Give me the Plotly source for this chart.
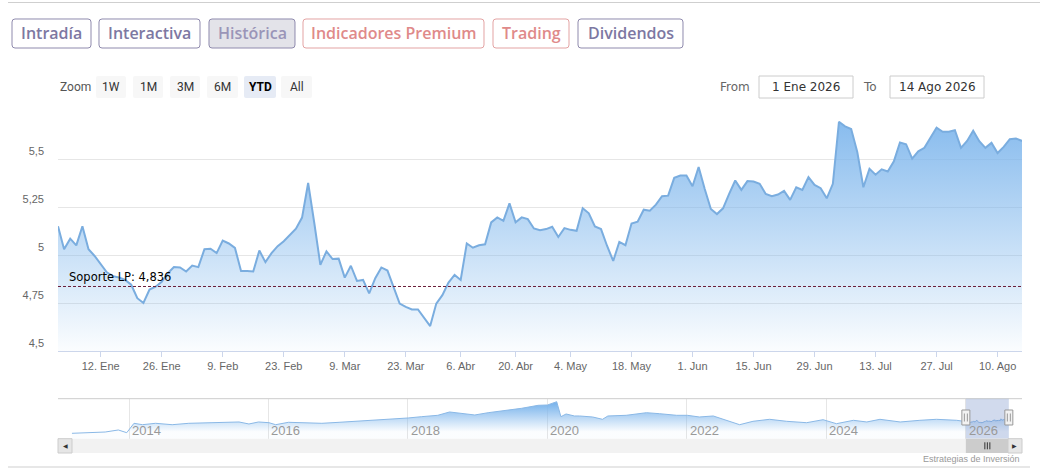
import plotly.graph_objects as go
import pandas as pd

W, H = 1040, 474

# Cotizaciones diarias 2026 (YTD)
start_date = "2026-01-01"
end_date = "2026-08-14"
holidays = ["2026-04-03", "2026-04-06", "2026-05-01"]
prices = [
    # Ene
    5.15, 5.03, 5.085, 5.05, 5.15, 5.03, 4.995, 4.95, 4.91, 4.89, 4.883, 4.87,
    4.845, 4.775, 4.75, 4.82, 4.835, 4.86, 4.905, 4.937, 4.935, 4.914,
    # Feb
    4.945, 4.937, 5.03, 5.033, 5.01, 5.075, 5.06, 5.037, 4.917, 4.917,
    4.914, 5.023, 4.963, 5.01, 5.046, 5.072, 5.107, 5.137, 5.195, 5.375,
    # Mar
    5.168, 4.949, 5.019, 4.979, 4.981, 4.882, 4.944, 4.865, 4.87, 4.8, 4.879,
    4.935, 4.919, 4.835, 4.747, 4.73, 4.716, 4.716, 4.672, 4.63, 4.747, 4.791,
    # Abr
    4.856, 4.896, 4.87, 5.06, 5.038, 5.051, 5.056, 5.17, 5.196, 5.178,
    5.269, 5.17, 5.196, 5.187, 5.138, 5.129, 5.135, 5.147, 5.094, 5.14,
    # May
    5.131, 5.126, 5.243, 5.217, 5.149, 5.135, 5.047, 4.969, 5.068, 5.051,
    5.164, 5.173, 5.236, 5.231, 5.262, 5.306, 5.309, 5.402, 5.414, 5.414,
    # Jun
    5.358, 5.458, 5.344, 5.24, 5.213, 5.243, 5.318, 5.388, 5.339, 5.385, 5.383,
    5.371, 5.318, 5.306, 5.315, 5.334, 5.287, 5.353, 5.339, 5.406, 5.365, 5.348,
    # Jul
    5.295, 5.371, 5.694, 5.67, 5.656, 5.537, 5.353, 5.449, 5.418, 5.446, 5.435, 5.488,
    5.586, 5.577, 5.502, 5.54, 5.558, 5.61, 5.663, 5.642, 5.642, 5.65, 5.558,
    # Ago
    5.594, 5.647, 5.593, 5.558, 5.584, 5.531, 5.563, 5.603, 5.607, 5.594,
]
support = 4.836

# Histórico (navegador)
hist_dates = [
    "2013-03-08", "2013-06-03", "2013-08-29", "2013-11-06", "2013-12-20",
    "2014-01-27", "2014-03-12", "2014-05-20", "2014-08-15", "2014-11-10",
    "2015-02-06", "2015-05-05", "2015-07-31", "2015-09-21", "2015-11-10",
    "2016-01-04", "2016-02-08", "2016-04-15", "2016-07-12", "2016-10-07",
    "2017-01-05", "2017-03-31", "2017-06-26", "2017-09-20",
    "2018-01-02", "2018-03-12", "2018-06-06", "2018-08-07", "2018-09-03", "2018-12-17",
    "2019-02-25", "2019-05-23", "2019-08-19", "2019-11-14",
    "2020-01-02", "2020-02-19", "2020-03-12", "2020-04-08", "2020-05-22",
    "2020-06-17", "2020-08-25", "2020-10-16", "2020-11-13",
    "2021-02-17", "2021-06-03", "2021-08-11", "2021-11-08",
    "2022-01-03", "2022-03-07", "2022-05-19", "2022-07-27", "2022-10-04", "2022-12-13",
    "2023-03-10", "2023-06-07", "2023-09-20", "2023-12-15",
    "2024-02-23", "2024-05-22", "2024-07-31", "2024-10-08",
    "2025-01-22", "2025-05-05", "2025-07-31", "2025-11-14", "2025-12-31",
]
hist_prices = [
    2.1, 2.35, 2.42, 2.93, 2.25,
    4.6, 4.25, 4.6, 4.25, 4.6,
    4.75, 4.85, 4.93, 4.43, 4.93,
    4.75, 4.25, 4.85, 4.75, 4.6,
    4.85, 5.1, 5.25, 5.6,
    5.93, 6.25, 6.6, 7.43, 7.25, 6.68,
    7.25, 7.75, 8.35, 9.1,
    9.18, 10.0, 6.25, 6.93, 6.43, 6.43, 6.18, 5.6, 6.43,
    6.6, 7.25, 7.0, 6.6,
    6.6, 6.18, 6.43, 5.35, 4.25, 5.1,
    5.6, 5.1, 4.75, 5.5,
    4.5, 5.35, 4.93, 5.6,
    4.93, 5.35, 5.6, 5.35, 5.1,
]

tick_dates = ["2026-01-12", "2026-01-26", "2026-02-09", "2026-02-23", "2026-03-09",
              "2026-03-23", "2026-04-07", "2026-04-20", "2026-05-04", "2026-05-18",
              "2026-06-01", "2026-06-15", "2026-06-29", "2026-07-13", "2026-07-27",
              "2026-08-10"]
tick_labels = ["12. Ene", "26. Ene", "9. Feb", "23. Feb", "9. Mar", "23. Mar", "6. Abr",
               "20. Abr", "4. May", "18. May", "1. Jun", "15. Jun", "29. Jun", "13. Jul",
               "27. Jul", "10. Ago"]
y_ticks = [4.5, 4.75, 5, 5.25, 5.5, 5.75]
y_labels = ["4,5", "4,75", "5", "5,25", "5,5", ""]
nav_years = ["2014-01-01", "2016-01-01", "2018-01-01", "2020-01-01",
             "2022-01-01", "2024-01-01", "2026-01-01"]
nav_labels = ["2014", "2016", "2018", "2020", "2022", "2024", "2026"]

tabs = ["Intradía", "Interactiva", "Histórica", "Indicadores Premium", "Trading", "Dividendos"]
zoom_buttons = ["1W", "1M", "3M", "6M", "YTD", "All"]

dates = pd.bdate_range(start_date, end_date)
dates = dates[~dates.isin(pd.to_datetime(holidays))]


def px(x):
    return x / W


def py(y):
    return 1 - y / H


def rrect(x0, y0, x1, y1, r=3):
    X = lambda v: f"{px(v):.5f}"
    Y = lambda v: f"{py(v):.5f}"
    return (f"M{X(x0 + r)},{Y(y0)} L{X(x1 - r)},{Y(y0)} Q{X(x1)},{Y(y0)} {X(x1)},{Y(y0 + r)} "
            f"L{X(x1)},{Y(y1 - r)} Q{X(x1)},{Y(y1)} {X(x1 - r)},{Y(y1)} L{X(x0 + r)},{Y(y1)} "
            f"Q{X(x0)},{Y(y1)} {X(x0)},{Y(y1 - r)} L{X(x0)},{Y(y0 + r)} Q{X(x0)},{Y(y0)} {X(x0 + r)},{Y(y0)} Z")


def label(x, y, text, size, color, family="Liberation Sans", xanchor="center", **kw):
    return dict(xref="paper", yref="paper", x=px(x), y=py(y), text=text, showarrow=False,
                xanchor=xanchor, yanchor="middle",
                font=dict(family=family, size=size, color=color, **kw))


fig = go.Figure()

# main area
fig.add_trace(go.Scatter(
    x=dates, y=prices, mode="lines", xaxis="x", yaxis="y",
    line=dict(color="#7aaddf", width=2),
    fill="tozeroy",
    fillgradient=dict(type="vertical", start=4.5, stop=5.75,
                      colorscale=[[0, "rgba(124,181,236,0.03)"], [1, "rgba(124,181,236,0.95)"]]),
    hoverinfo="skip",
))

# navigator
fig.add_trace(go.Scatter(
    x=list(pd.to_datetime(hist_dates)) + list(dates), y=hist_prices + prices,
    mode="lines", xaxis="x2", yaxis="y2",
    line=dict(color="#8ab8e6", width=1),
    fill="tozeroy",
    fillgradient=dict(type="vertical", start=2.5, stop=9.5,
                      colorscale=[[0, "rgba(124,181,236,0.03)"], [1, "rgba(124,181,236,1)"]]),
    hoverinfo="skip",
))

shapes = []
annotations = []

# separator lines
shapes.append(dict(type="line", xref="paper", yref="paper", x0=px(8), x1=1, y0=py(2.5), y1=py(2.5),
                   line=dict(color="#cfcfcf", width=1)))
shapes.append(dict(type="line", xref="paper", yref="paper", x0=px(8), x1=px(1030), y0=py(467), y1=py(467),
                   line=dict(color="#cfcfcf", width=1)))

# tabs
tab_pos = [(12, 91), (99, 200), (209, 295), (303, 484), (493, 569), (578, 683)]
purple_txt, purple_line = "#7d78a2", "#8f8aad"
red_txt, red_line = "#df8a8a", "#e3a3a3"
for name, (x0, x1) in zip(tabs, tab_pos):
    red = name in ("Indicadores Premium", "Trading")
    active = name == "Histórica"
    shapes.append(dict(type="path", xref="paper", yref="paper", path=rrect(x0, 19, x1, 48),
                       fillcolor="#e3e3e9" if active else "white",
                       line=dict(color=red_line if red else purple_line, width=1)))
    annotations.append(label((x0 + x1) / 2, 33.5, name, 16,
                             red_txt if red else ("#9a95b8" if active else purple_txt),
                             family="Open Sans", weight=600))

# zoom buttons
annotations.append(label(58, 87, "Zoom", 12, "#555", family="Roboto", xanchor="left"))
btn_pos = [(96, 126), (133, 163), (170, 200), (207, 238), (244, 276), (281, 312)]
for name, (x0, x1) in zip(zoom_buttons, btn_pos):
    sel = name == "YTD"
    shapes.append(dict(type="path", xref="paper", yref="paper", path=rrect(x0, 76, x1, 98, 2),
                       fillcolor="#e6ebf5" if sel else "#f7f7f7", line=dict(width=0)))
    annotations.append(label((x0 + x1) / 2, 87, f"<b>{name}</b>" if sel else name, 12,
                             "#000" if sel else "#333", family="Roboto"))

# From / To
annotations.append(label(752, 87, "From", 12, "#666", family="DejaVu Sans", xanchor="right"))
annotations.append(label(879, 87, "To", 12, "#666", family="DejaVu Sans", xanchor="right"))
for (x0, x1), txt in [((759, 853), "1 Ene 2026"), ((890, 984), "14 Ago 2026")]:
    shapes.append(dict(type="rect", xref="paper", yref="paper", x0=px(x0), x1=px(x1),
                       y0=py(98), y1=py(76), fillcolor="white",
                       line=dict(color="#cccccc", width=1)))
    annotations.append(label((x0 + x1) / 2, 87, txt, 12, "#333", family="DejaVu Sans"))

# support line
shapes.append(dict(type="line", xref="x domain", yref="y", x0=0, x1=1, y0=support, y1=support,
                   line=dict(color="#6b1f3a", width=1, dash="3px,2px")))
annotations.append(dict(xref="x domain", yref="y", x=0, y=support, xanchor="left", yanchor="bottom",
                        xshift=9, text="Soporte LP: " + f"{support:.3f}".replace(".", ","),
                        showarrow=False,
                        font=dict(family="DejaVu Sans", size=11.5, color="#000")))

# navigator decorations
shapes.append(dict(type="line", xref="x2 domain", yref="paper", x0=0, x1=1, y0=py(398.7), y1=py(398.7),
                   line=dict(color="#cccccc", width=1)))
shapes.append(dict(type="rect", xref="x2", yref="y2 domain", x0=start_date, x1=end_date, y0=0, y1=1,
                   fillcolor="rgba(102,133,194,0.3)", line=dict(width=0)))
for yr, txt in zip(nav_years, nav_labels):
    annotations.append(dict(xref="x2", yref="paper", x=yr, y=py(430.5), xanchor="left",
                            yanchor="middle", xshift=1, text=txt, showarrow=False,
                            font=dict(family="Liberation Sans", size=13, color="#999")))

# scrollbar
shapes.append(dict(type="rect", xref="x2 domain", yref="paper", x0=0, x1=1, y0=py(453), y1=py(438.7),
                   fillcolor="#f2f2f2", line=dict(width=0)))
shapes.append(dict(type="rect", xref="x2", yref="paper", x0=start_date, x1=end_date,
                   y0=py(453), y1=py(438.7), fillcolor="#cccccc", line=dict(width=0)))
for anchor, (a, b) in [(0, (0, 14)), (1, (-14, 0))]:
    shapes.append(dict(type="rect", xref="x2 domain", xsizemode="pixel", xanchor=anchor, x0=a, x1=b,
                       yref="paper", y0=py(453), y1=py(438.7),
                       fillcolor="#e6e6e6", line=dict(color="#cccccc", width=1)))
annotations.append(dict(xref="x2 domain", yref="paper", x=0, y=py(445.8), xshift=7, text="◀",
                        xanchor="center", yanchor="middle",
                        showarrow=False, font=dict(size=6, color="#333")))
annotations.append(dict(xref="x2 domain", yref="paper", x=1, y=py(445.8), xshift=-7, text="▶",
                        xanchor="center", yanchor="middle",
                        showarrow=False, font=dict(size=6, color="#333")))
mid = pd.Timestamp(start_date) + (pd.Timestamp(end_date) - pd.Timestamp(start_date)) / 2
for off in (-2.5, 0, 2.5):
    shapes.append(dict(type="line", xref="x2", xsizemode="pixel", xanchor=mid, x0=off, x1=off,
                       yref="paper", ysizemode="pixel", yanchor=py(445.8), y0=-3.5, y1=3.5,
                       line=dict(color="#333333", width=1)))

# handles
for d in (start_date, end_date):
    shapes.append(dict(type="rect", xref="x2", xsizemode="pixel", xanchor=d, x0=-4, x1=4,
                       yref="paper", ysizemode="pixel", yanchor=py(417.5), y0=-7.5, y1=7.5,
                       fillcolor="#f2f2f2", line=dict(color="#999999", width=1)))
    for off in (-1.5, 1.5):
        shapes.append(dict(type="line", xref="x2", xsizemode="pixel", xanchor=d, x0=off, x1=off,
                           yref="paper", ysizemode="pixel", yanchor=py(417.5), y0=-4, y1=4,
                           line=dict(color="#999999", width=1)))

annotations.append(label(1022, 459, "Estrategias de Inversión", 9, "#999", xanchor="right"))

fig.update_layout(
    width=W, height=H, margin=dict(l=0, r=0, t=0, b=0),
    paper_bgcolor="white", plot_bgcolor="white", showlegend=False,
    font=dict(family="Liberation Sans", color="#666"),
    xaxis=dict(domain=[px(58), px(1022)], anchor="y", type="date", range=[start_date, end_date],
               rangebreaks=[dict(bounds=["sat", "mon"]), dict(values=holidays)],
               tickmode="array", tickvals=tick_dates, ticktext=tick_labels,
               ticks="outside", ticklen=5, tickcolor="#ccd6eb",
               showline=True, linecolor="#ccd6eb", linewidth=1,
               showgrid=False, zeroline=False, fixedrange=True,
               tickfont=dict(family="Liberation Sans", size=11, color="#666")),
    yaxis=dict(domain=[py(351), py(111)], anchor="x", range=[4.5, 5.75],
               tickmode="array", tickvals=y_ticks, ticktext=y_labels,
               showgrid=True, gridcolor="#e6e6e6", gridwidth=1,
               zeroline=False, showline=False, ticks="",
               ticklabelposition="outside top", ticklabelstandoff=13, fixedrange=True,
               tickfont=dict(family="Liberation Sans", size=11, color="#666")),
    xaxis2=dict(domain=[px(58), px(1022)], anchor="y2", type="date",
                range=["2012-12-25", "2026-10-22"],
                tickmode="array", tickvals=nav_years, showticklabels=False, ticks="",
                showgrid=True, gridcolor="#e6e6e6", zeroline=False, showline=False,
                fixedrange=True),
    yaxis2=dict(domain=[py(438.7), py(398.7)], anchor="x2", range=[0.75, 10.75],
                visible=False, fixedrange=True),
    shapes=shapes,
    annotations=annotations,
)

fig.write_html("out.html", config={"displayModeBar": False},
               post_script="document.body.style.margin='0';")
